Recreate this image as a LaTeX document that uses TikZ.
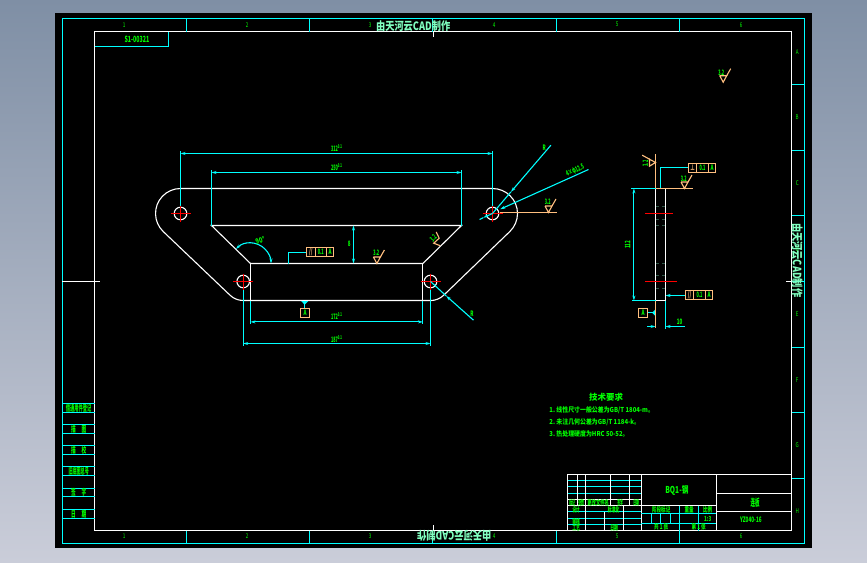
\documentclass[tikz,border=0pt]{standalone}
\usepackage{graphicx}
\usepackage{fontspec}
\setmainfont{Noto Sans CJK SC}
\usetikzlibrary{arrows.meta}
\definecolor{acyan}{HTML}{00FFFF}
\definecolor{agreen}{HTML}{00FF00}
\definecolor{amint}{HTML}{80FFC0}
\definecolor{apeach}{HTML}{FFBF7F}
\definecolor{adim}{HTML}{2F5546}
\definecolor{backtop}{HTML}{7F8FA5}
\definecolor{backlow}{HTML}{CACDD9}
\newcommand{\nar}[2][.6]{\scalebox{#1}[1]{#2}}
\tikzset{
  solid line/.style={white,line width=1.1pt},
  thin line/.style={acyan,line width=1.1pt},
  center line/.style={red,line width=1.1pt},
  mark line/.style={apeach,line width=1.1pt},
  dim line/.style={acyan,line width=1.1pt,>={Stealth[length=5pt,width=3pt]}},
  txt/.style={agreen,inner sep=0pt,font=\fontsize{7.5}{8}\selectfont\bfseries},
  zonetxt/.style={agreen,inner sep=0pt,font=\fontsize{6.5}{7}\selectfont},
  tabletxt/.style={agreen,inner sep=0pt,font=\fontsize{7}{7}\selectfont\bfseries},
  sidetxt/.style={agreen,inner sep=0pt,font=\fontsize{8.5}{9}\selectfont\bfseries},
  bigtxt/.style={amint,inner sep=0pt,font=\fontsize{11.5}{12}\selectfont\bfseries},
  techtxt/.style={agreen,inner sep=0pt,anchor=west,font=\fontsize{6.8}{7}\selectfont\bfseries}
}
\begin{document}
\begin{tikzpicture}[x=1pt,y=-1pt]
    \useasboundingbox (0,0) rectangle (867,562);
    % Backdrop and sheet
    \shade[top color=backtop,bottom color=backlow] (0,0) rectangle (867,562);
    \fill[black] (55,13) rectangle (812,548);
    \begin{scope}[shift={(.2,.2)}]
    % Frames
    \draw[thin line] (62,18.7) rectangle (804.3,543.3);
    \draw[solid line] (94.3,31.3) rectangle (791.7,530.3);
    \draw[thin line] (94.3,46) -- (168,46) -- (168,31.3);
    \node[sidetxt] (drawno) at (136.7,39) {\nar[.62]{S1-00321}};
    % Zones along the top and the bottom
    \foreach \x in {186.3,309.5,432.7,556,679.3}{
      \draw[thin line] (\x,18.7) -- (\x,31.3);
      \draw[thin line] (\x,530.3) -- (\x,543.3);
    }
    \foreach \x/\n in {124/1,247/2,370/3,494/4,617/5,741/6}{
      \node[zonetxt] (top\n) at (\x,24.5) {\nar[.7]{\n}};
      \node[zonetxt] (bot\n) at (\x,536.3) {\nar[.7]{\n}};
    }
    % Zones on the right
    \foreach \y in {84,150,215.5,281,347,412.5,478}{
      \draw[thin line] (791.7,\y) -- (804.3,\y);
    }
    \foreach \y/\n in {52/A,117/B,183/C,249/D,314/E,380/F,445/G,510.7/H}{
      \node[zonetxt] (side\n) at (797,\y) {\nar[.7]{\n}};
    }
    \draw[solid line] (62,281) -- (100,281);
    \draw[solid line] (786,281) -- (791.7,281);
    \draw[solid line] (433,31.3) -- (433,36.7);
    \draw[solid line] (433,525) -- (433,530.3);
    % Watermarks
    \node[bigtxt] (marktop) at (413,25.7) {\nar[.8]{由天河云CAD制作}};
    \node[bigtxt,rotate=180] (markbot) at (454,535.7) {\nar[.8]{由天河云CAD制作}};
    \node[bigtxt,rotate=-90] (markside) at (797,260) {\nar[.8]{由天河云CAD制作}};
    % Left column
    \foreach \y in {403.3,412.3,424.3,433.3,445.3,454.3,466.3,475.3,488,496.3,509.3,518.3}{
      \draw[thin line] (62,\y) -- (94.3,\y);
    }
    \foreach \y/\t/\s in {408/借通用件登记/.5,429/描\hspace{11pt}图/.55,450/描\hspace{11pt}校/.55,471/旧底图总号/.48,492/签\hspace{11pt}字/.55,514/日\hspace{11pt}期/.55}{
      \node[sidetxt] at (78.5,\y) {\nar[\s]{\t}};
    }
    % Main view, outline
    \draw[solid line] (180.3,188.3) -- (492.3,188.3) arc[start angle=-90,end angle=46.4,radius=25]
      -- (443.4,295.1) arc[start angle=46.4,end angle=90,radius=19]
      -- (243,300.3) arc[start angle=90,end angle=133.6,radius=19]
      -- (163.1,231.4) arc[start angle=133.6,end angle=270,radius=25] -- cycle;
    \draw[solid line] (211.3,225.3) -- (461.3,225.3) -- (422.7,263.3) -- (250.3,263.3) -- cycle;
    \draw[solid line] (250.3,263.3) -- (250.3,300.3);
    \draw[solid line] (422.7,263.3) -- (422.7,300.3);
    % Dimensions of the main view
    \draw[thin line] (180.3,151) -- (180.3,213.3);
    \draw[thin line] (492.3,151) -- (492.3,213.3);
    \draw[dim line,<->] (180.3,153.3) -- (492.3,153.3);
    \node[txt] (dimtop) at (336.5,147.5) {\nar[.5]{312\textsuperscript{0.1}}};
    \draw[thin line] (211.3,170) -- (211.3,225.3);
    \draw[thin line] (461.3,170) -- (461.3,225.3);
    \draw[dim line,<->] (211.3,172.3) -- (461.3,172.3);
    \node[txt] (dimslot) at (336.5,166.5) {\nar[.5]{250\textsuperscript{0.1}}};
    \draw[thin line] (250.3,300.3) -- (250.3,323.5);
    \draw[thin line] (422.7,300.3) -- (422.7,323.5);
    \draw[dim line,<->] (250.3,321.7) -- (422.7,321.7);
    \node[txt] (dimbase) at (336.5,316.2) {\nar[.5]{172\textsuperscript{0.1}}};
    \draw[thin line] (243,281.3) -- (243,345.5);
    \draw[thin line] (430.3,281.3) -- (430.3,345.5);
    \draw[dim line,<->] (243,343.3) -- (430.3,343.3);
    \node[txt] (dimhole) at (336.5,338.5) {\nar[.5]{187\textsuperscript{0.1}}};
    \draw[dim line,<->] (353.3,225.3) -- (353.3,263.3);
    \node[txt] (dimhigh) at (349,243.8) {\nar{8}};
    \draw[dim line,<->] (235.8,248.8) arc[start angle=-135,end angle=0,radius=20.5];
    \node[txt,rotate=15] (dimangle) at (260,240) {\nar[.75]{90°}};
    % Holes
    \foreach \x/\y in {180.3/213.3,492.3/213.3,243/281.3,430.3/281.3}{
      \draw[solid line] (\x,\y) circle (6.3);
      \draw[center line] (\x-10,\y) -- (\x+10,\y);
      \draw[center line] (\x,\y-8) -- (\x,\y+8);
    }
    % Leaders
    \draw[dim line,->] (588.3,169.3) -- (500,209);
    \draw[dim line,->] (492.3,213.3) -- (483,217.5);
    \draw[thin line] (483,217.5) -- (479.3,219.3);
    \draw[dim line,->] (550.7,145) -- (510.7,191.7);
    \draw[thin line] (510.7,191.7) -- (492.3,213.3);
    \draw[dim line,->] (473.3,320) -- (446,295.7);
    \draw[thin line] (446,295.7) -- (430.3,281.3);
    \node[txt,rotate=24] (lblholes) at (575,170.5) {\nar[.55]{4×φ12.5}};
    \node[txt] (lblrtop) at (544,147.3) {\nar{R}};
    \node[txt] (lblrlow) at (471.7,313.3) {\nar{R}};
    % Surface marks
    \draw[mark line] (500,212.3) -- (556.7,212.3);
    \foreach \x/\y in {548.3/212.3,376.7/263.3,684.3/188.3,723/82}{
      \draw[mark line] (\x-3.5,\y-6.5) -- (\x+3.5,\y-6.5) -- (\x,\y) -- (\x-3.5,\y-6.5);
      \draw[mark line] (\x+3.5,\y-6.5) -- (\x+7.5,\y-13.5);
    }
    \draw[mark line] (655.3,162.3) -- (649.3,159) -- (649.3,166) -- cycle;
    \draw[mark line] (649.3,159) -- (642,155);
    \draw[mark line] (440,245.5) -- (433.5,243) -- (439,238) -- (436,231.7);
    \node[txt] (rawone) at (547.5,202) {\nar[.5]{3.2}};
    \node[txt] (rawtwo) at (376,253) {\nar[.5]{3.2}};
    \node[txt] (rawthree) at (683.5,178.3) {\nar[.5]{3.2}};
    \node[txt] (rawfour) at (721,72.5) {\nar[.5]{3.2}};
    \node[txt,rotate=90] (rawfive) at (645.3,163.3) {\nar[.5]{3.2}};
    \node[txt,rotate=45] (rawsix) at (433,238) {\nar[.5]{3.2}};
    % Frames with tolerances
    \draw[thin line] (288.3,263.3) -- (288.3,252.3) -- (306.3,252.3);
    \draw[mark line] (306.3,247.3) rectangle (333.7,256.7);
    \draw[mark line] (315,247.3) -- (315,256.7);
    \draw[mark line] (326.3,247.3) -- (326.3,256.7);
    \node[txt,apeach] (frmasym) at (310.6,252) {\nar{//}};
    \node[txt] (frmaval) at (320.6,252) {\nar[.5]{0.1}};
    \node[txt] (frmaref) at (330,252) {\nar{A}};
    \draw[thin line] (660,188.3) -- (660,167.3) -- (688.3,167.3);
    \draw[mark line] (688.3,163.3) rectangle (715.7,172.7);
    \draw[mark line] (696.3,163.3) -- (696.3,172.7);
    \draw[mark line] (708.3,163.3) -- (708.3,172.7);
    \node[txt,apeach] (frmbsym) at (692.3,168) {\nar{⊥}};
    \node[txt] (frmbval) at (702.3,168) {\nar[.5]{0.1}};
    \node[txt] (frmbref) at (712,168) {\nar{A}};
    \draw[dim line,<-] (665.3,295.3) -- (685.3,295.3);
    \draw[mark line] (685.3,290.3) rectangle (712.7,299.7);
    \draw[mark line] (693.3,290.3) -- (693.3,299.7);
    \draw[mark line] (705.3,290.3) -- (705.3,299.7);
    \node[txt,apeach] (frmcsym) at (689.3,295) {\nar{//}};
    \node[txt] (frmcval) at (699.3,295) {\nar[.5]{0.1}};
    \node[txt] (frmcref) at (709,295) {\nar{A}};
    % Datum marks
    \fill[acyan] (301,301) -- (308,301) -- (304.5,304.5) -- cycle;
    \draw[thin line] (304.5,301) -- (304.5,308);
    \draw[mark line] (300.3,308) rectangle (309.7,317.7);
    \node[txt] (datuma) at (305,313) {\nar{A}};
    \fill[acyan] (655.3,309) -- (655.3,316) -- (652,312.5) -- cycle;
    \draw[thin line] (647.7,312.5) -- (655.3,312.5);
    \draw[mark line] (638.3,308.3) rectangle (647.7,317.7);
    \node[txt] (datumb) at (643,313) {\nar{A}};
    % Side view
    \draw[solid line] (655.3,188.3) rectangle (665.3,300.3);
    \foreach \y in {206.3,219.3,225.3,263.3,275.3,288.3}{
      \draw[adim,line width=1pt] (656,\y) -- (659,\y) (662,\y) -- (665,\y);
    }
    \draw[center line] (645,213.3) -- (672.7,213.3);
    \draw[center line] (645,281.3) -- (676.7,281.3);
    \draw[mark line] (655.3,154) -- (655.3,188.3) -- (692.7,188.3);
    \draw[mark line] (655.3,300.3) -- (655.3,327.7);
    \draw[thin line] (631,188.3) -- (655.3,188.3);
    \draw[thin line] (632,300.3) -- (655.3,300.3);
    \draw[dim line,<->] (633.7,188.3) -- (633.7,300.3);
    \node[txt,rotate=90] (dimside) at (627.3,244.5) {\nar[.6]{112}};
    \draw[thin line] (665.3,300.3) -- (665.3,328.7);
    \draw[dim line,->] (647,326.3) -- (655.3,326.3);
    \draw[dim line,<-] (665.3,326.3) -- (685,326.3);
    \node[txt] (dimthick) at (679.3,322) {\nar[.6]{10}};
    % Technical requirements
    \node[agreen,inner sep=0pt,font=\fontsize{8.5}{9}\selectfont\bfseries] (techhead) at (606,397.3) {技术要求};
    \node[techtxt] (techone) at (549,410) {\nar[.87]{1.\ 线性尺寸一般公差为GB/T 1804-m。}};
    \node[techtxt] (techtwo) at (549,421.7) {\nar[.87]{2.\ 未注几何公差为GB/T 1184-k。}};
    \node[techtxt] (techthree) at (549,434) {\nar[.87]{3.\ 热处理硬度为HRC 50-52。}};
    % Title block
    \draw[solid line] (567.3,474.3) rectangle (791.7,530.3);
    \draw[solid line] (641,474.3) -- (641,530.3);
    \draw[solid line] (716,474.3) -- (716,530.3);
    \draw[solid line] (716,493.3) -- (791.7,493.3);
    \draw[solid line] (716,511.3) -- (791.7,511.3);
    \draw[solid line] (641,505.3) -- (716,505.3);
    \foreach \y in {480.3,486.3,493}{
      \draw[thin line] (567.3,\y) -- (641,\y);
    }
    \draw[solid line] (567.3,499.3) -- (641,499.3);
    \draw[solid line] (567.3,505.3) -- (641,505.3);
    \foreach \y in {511.3,518.3,524.3}{
      \draw[thin line] (567.3,\y) -- (641,\y);
    }
    \foreach \x in {577.3,610.3,629.7}{
      \draw[solid line] (\x,474.3) -- (\x,505.3);
    }
    \draw[solid line] (585.3,474.3) -- (585.3,530.3);
    \draw[solid line] (604.3,511.3) -- (604.3,530.3);
    \draw[solid line] (623.3,505.3) -- (623.3,530.3);
    \draw[thin line] (641,513.3) -- (716,513.3);
    \draw[thin line] (641,523.3) -- (716,523.3);
    \foreach \x in {651,660.3,670.3}{
      \draw[thin line] (\x,513.3) -- (\x,523.3);
    }
    \draw[thin line] (679.3,505.3) -- (679.3,530.3);
    \draw[thin line] (698.3,505.3) -- (698.3,530.3);
    \foreach \x/\y/\t/\s in {572/502.5/标记/.42,581/502.5/处数/.42,598/502.5/更改文件名/.62,620/502.5/签字/.42,636/502.5/日期/.42,576/509.3/设计/.5,613.5/509.3/标准化/.55,576/521.5/审核/.55,576/527.5/工艺/.55,614/527.5/日期/.55,661/510/阶段标记/.65,689/510/重量/.65,707.5/510/比例/.65,707.5/519/1:3/.65,661/527/共\ 1\ 张/.65,698.5/527/第\ 1\ 张/.65}{
      \node[tabletxt] at (\x,\y) {\nar[\s]{\t}};
    }
    \node[txt,font=\fontsize{9.5}{10}\selectfont\bfseries] (partno) at (676.7,490.3) {\nar[.7]{BQ1-钢}};
    \node[txt,font=\fontsize{10}{10}\selectfont\bfseries] (partname) at (755,502.7) {\nar[.45]{连板}};
    \node[txt,font=\fontsize{7.5}{8}\selectfont\bfseries] (drawcode) at (750.7,520) {\nar[.62]{YZ040-16}};
    \end{scope}
\end{tikzpicture}
\end{document}
